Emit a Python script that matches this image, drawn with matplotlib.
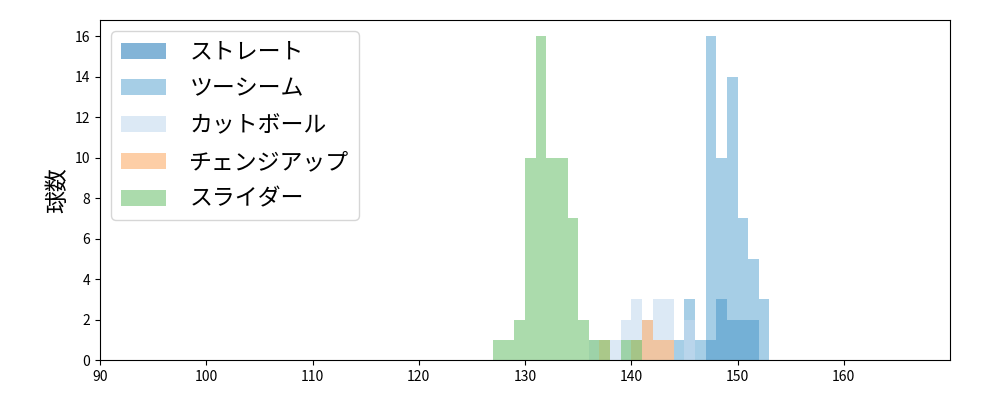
import matplotlib
matplotlib.use('Agg')
import matplotlib.pyplot as plt
import numpy as np

plt.rcParams['font.family'] = ['Noto Sans CJK JP', 'DejaVu Sans']

# 1 km/h bins, left edge of each bin
speed_bins = np.arange(125, 156)

pitch_names = ['ストレート', 'ツーシーム', 'カットボール', 'チェンジアップ', 'スライダー']
pitch_colors = ['#3182bd', '#6baed6', '#c6dbef', '#fdae6b', '#74c476']

# counts per speed (km/h)
straight = {147: 1, 148: 3, 149: 2, 150: 2, 151: 2}
twoseam = {144: 1, 145: 3, 146: 1, 147: 16, 148: 10, 149: 14, 150: 7, 151: 5, 152: 3}
cutball = {136: 1, 138: 1, 139: 2, 140: 3, 141: 2, 142: 3, 143: 3, 145: 2}
changeup = {137: 1, 140: 1, 141: 2, 142: 1, 143: 1}
slider = {127: 1, 128: 1, 129: 2, 130: 10, 131: 16, 132: 10, 133: 10, 134: 7,
          135: 2, 136: 1, 137: 1, 139: 1, 140: 1}

pitch_counts = [straight, twoseam, cutball, changeup, slider]

fig, ax = plt.subplots(figsize=(10, 4), dpi=100)
fig.subplots_adjust(left=0.1, right=0.95, bottom=0.1, top=0.95)

for name, color, counts in zip(pitch_names, pitch_colors, pitch_counts):
    speeds = list(counts.keys())
    weights = list(counts.values())
    ax.hist(speeds, bins=speed_bins, weights=weights, color=color, alpha=0.6, label=name)

ax.set_xlim(90, 170)
ax.set_xticks(range(90, 170, 10))
ax.set_ylabel('球数', fontsize=16.5)
ax.legend(loc='upper left', fontsize=16.5, labelspacing=0.6, handletextpad=1.0)

fig.savefig('out.png')
